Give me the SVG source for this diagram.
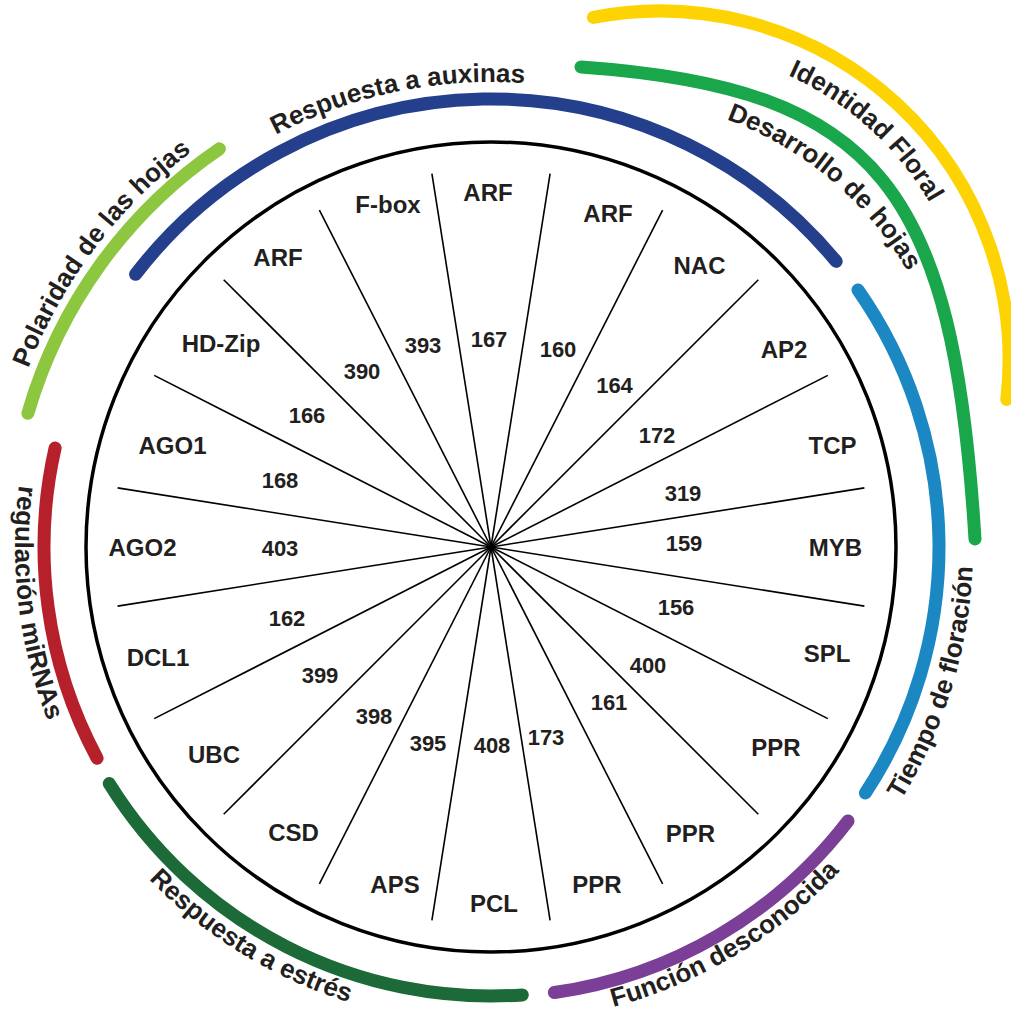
<svg xmlns="http://www.w3.org/2000/svg" width="1011" height="1013" viewBox="0 0 1011 1013">
<defs>
<style>
.lbl{font-family:"Liberation Sans",Arial,sans-serif;font-weight:bold;font-size:24px;fill:#231f20;text-anchor:middle}
.num{font-family:"Liberation Sans",Arial,sans-serif;font-weight:bold;font-size:22px;fill:#231f20;text-anchor:middle}
.arc{fill:none;stroke-width:13;stroke-linecap:round}
.arct{font-family:"Liberation Sans",Arial,sans-serif;font-weight:bold;font-size:26px;fill:#231f20}
.spoke{stroke:#000;stroke-width:1.6;fill:none}
</style>
<path id="tp-aux" d="M 49.5 401 A 465 465 0 0 1 838.2 237.7"/>
<path id="tp-tiempo" d="M 599.4 1016.6 A 482 482 0 0 0 843.5 218.3"/>
<path id="tp-funcion" d="M 260.2 963.3 A 476 476 0 0 0 966.9 538.7"/>
<path id="tp-estres" d="M 14.2 533.7 A 477 477 0 0 0 717.9 966.6"/>
<path id="tp-mirna" d="M 204.5 166.9 A 476 476 0 0 0 305 985.2"/>
<path id="tp-polar" d="M 34.4 740.8 A 496 496 0 0 1 551.5 54.7"/>
<path id="tp-ident" d="M 616.6 51 A 312 312 0 0 1 971.8 370.9"/>
<path id="tp-desa" d="M 515.7 109.9 A 349 349 0 0 1 953.7 477.4"/>
</defs>
<rect width="1011" height="1013" fill="#ffffff"/>

<g id="categories">
<g id="cat-identidad-floral">
<path class="arc" stroke="#fed304" d="M 593.4 17.4 A 349 349 0 0 1 1006.8 399.5"/>
<text class="arct"><textPath href="#tp-ident" startOffset="50%" text-anchor="middle">Identidad Floral</textPath></text>
</g>
<g id="cat-desarrollo-hojas">
<path class="arc" stroke="#1aa64a" d="M 581 67 C 880.3 87.9 953.6 189.7 975 539"/>
<text class="arct"><textPath href="#tp-desa" startOffset="50%" text-anchor="middle">Desarrollo de hojas</textPath></text>
</g>
<g id="cat-respuesta-auxinas">
<path class="arc" stroke="#243f8c" d="M 135.6 274.3 A 448 448 0 0 1 836.2 261.4"/>
<text class="arct"><textPath href="#tp-aux" startOffset="50%" text-anchor="middle">Respuesta a auxinas</textPath></text>
</g>
<g id="cat-tiempo-floracion">
<path class="arc" stroke="#1b87c3" d="M 858 290 A 448 448 0 0 1 865.4 793"/>
<text class="arct"><textPath href="#tp-tiempo" startOffset="50%" text-anchor="middle">Tiempo de floración</textPath></text>
</g>
<g id="cat-funcion-desconocida">
<path class="arc" stroke="#7c3f97" d="M 848 821 A 450 450 0 0 1 554.4 992.5"/>
<text class="arct"><textPath href="#tp-funcion" startOffset="50%" text-anchor="middle">Función desconocida</textPath></text>
</g>
<g id="cat-respuesta-estres">
<path class="arc" stroke="#1b6a38" d="M 522.3 994.9 A 449 449 0 0 1 109.3 783.6"/>
<text class="arct"><textPath href="#tp-estres" startOffset="50%" text-anchor="middle">Respuesta a estrés</textPath></text>
</g>
<g id="cat-regulacion-mirnas">
<path class="arc" stroke="#b6202b" d="M 97.1 758.2 A 447 447 0 0 1 55.1 448"/>
<text class="arct"><textPath href="#tp-mirna" startOffset="50%" text-anchor="middle">regulación miRNAs</textPath></text>
</g>
<g id="cat-polaridad-hojas">
<path class="arc" stroke="#8dc63f" d="M 27.9 413.3 A 482 482 0 0 1 219.4 148.8"/>
<text class="arct"><textPath href="#tp-polar" startOffset="50%" text-anchor="middle">Polaridad de las hojas</textPath></text>
</g>
</g>

<g id="wheel">
<circle cx="491" cy="547" r="405" fill="none" stroke="#000" stroke-width="3.5"/>
</g>

<g id="connectors">
<line class="spoke" x1="491" y1="547" x2="550.1" y2="173.6"/>
<line class="spoke" x1="491" y1="547" x2="662.6" y2="210.2"/>
<line class="spoke" x1="491" y1="547" x2="758.3" y2="279.7"/>
<line class="spoke" x1="491" y1="547" x2="827.8" y2="375.4"/>
<line class="spoke" x1="491" y1="547" x2="864.4" y2="487.9"/>
<line class="spoke" x1="491" y1="547" x2="864.4" y2="606.1"/>
<line class="spoke" x1="491" y1="547" x2="827.8" y2="718.6"/>
<line class="spoke" x1="491" y1="547" x2="758.3" y2="814.3"/>
<line class="spoke" x1="491" y1="547" x2="662.6" y2="883.8"/>
<line class="spoke" x1="491" y1="547" x2="550.1" y2="920.4"/>
<line class="spoke" x1="491" y1="547" x2="431.9" y2="920.4"/>
<line class="spoke" x1="491" y1="547" x2="319.4" y2="883.8"/>
<line class="spoke" x1="491" y1="547" x2="223.7" y2="814.3"/>
<line class="spoke" x1="491" y1="547" x2="154.2" y2="718.6"/>
<line class="spoke" x1="491" y1="547" x2="117.6" y2="606.1"/>
<line class="spoke" x1="491" y1="547" x2="117.6" y2="487.9"/>
<line class="spoke" x1="491" y1="547" x2="154.2" y2="375.4"/>
<line class="spoke" x1="491" y1="547" x2="223.7" y2="279.7"/>
<line class="spoke" x1="491" y1="547" x2="319.4" y2="210.2"/>
<line class="spoke" x1="491" y1="547" x2="431.9" y2="173.6"/>
</g>

<g id="sectors">
<g id="s-fbox"><text class="lbl" x="388" y="212.6">F-box</text><text class="num" x="423" y="352.9">393</text></g>
<g id="s-arf1"><text class="lbl" x="488" y="200.6">ARF</text><text class="num" x="489" y="346.9">167</text></g>
<g id="s-arf2"><text class="lbl" x="608" y="221.6">ARF</text><text class="num" x="558" y="356.9">160</text></g>
<g id="s-nac"><text class="lbl" x="699.5" y="273.6">NAC</text><text class="num" x="614.5" y="392.9">164</text></g>
<g id="s-ap2"><text class="lbl" x="784" y="357.6">AP2</text><text class="num" x="657" y="442.9">172</text></g>
<g id="s-tcp"><text class="lbl" x="832.5" y="453.6">TCP</text><text class="num" x="683" y="500.9">319</text></g>
<g id="s-myb"><text class="lbl" x="835.5" y="556.1">MYB</text><text class="num" x="684" y="550.9">159</text></g>
<g id="s-spl"><text class="lbl" x="827" y="661.6">SPL</text><text class="num" x="676" y="614.9">156</text></g>
<g id="s-ppr1"><text class="lbl" x="776" y="755.6">PPR</text><text class="num" x="648" y="672.9">400</text></g>
<g id="s-ppr2"><text class="lbl" x="690.5" y="841.6">PPR</text><text class="num" x="609" y="709.9">161</text></g>
<g id="s-ppr3"><text class="lbl" x="597" y="892.6">PPR</text><text class="num" x="546" y="744.9">173</text></g>
<g id="s-pcl"><text class="lbl" x="494" y="911.6">PCL</text><text class="num" x="492" y="752.9">408</text></g>
<g id="s-aps"><text class="lbl" x="395" y="892.6">APS</text><text class="num" x="428" y="750.9">395</text></g>
<g id="s-csd"><text class="lbl" x="293.5" y="841.1">CSD</text><text class="num" x="374" y="723.9">398</text></g>
<g id="s-ubc"><text class="lbl" x="214" y="762.6">UBC</text><text class="num" x="320" y="682.9">399</text></g>
<g id="s-dcl1"><text class="lbl" x="158" y="665.6">DCL1</text><text class="num" x="287" y="625.9">162</text></g>
<g id="s-ago2"><text class="lbl" x="142.5" y="555.6">AGO2</text><text class="num" x="280" y="555.9">403</text></g>
<g id="s-ago1"><text class="lbl" x="172.5" y="453.6">AGO1</text><text class="num" x="280" y="487.9">168</text></g>
<g id="s-hdzip"><text class="lbl" x="221" y="351.6">HD-Zip</text><text class="num" x="307" y="422.9">166</text></g>
<g id="s-arf3"><text class="lbl" x="278" y="265.6">ARF</text><text class="num" x="362" y="378.9">390</text></g>
</g>
</svg>
